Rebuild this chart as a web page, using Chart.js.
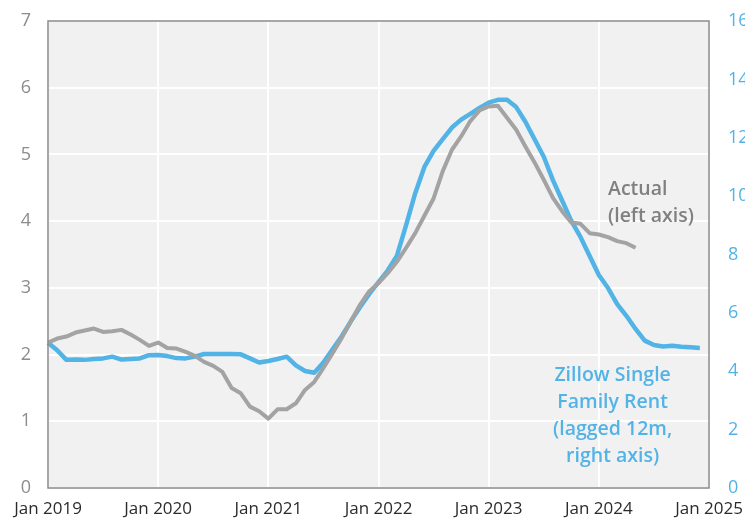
<!DOCTYPE html>
<html>
<head>
<meta charset="utf-8">
<script src="https://cdn.jsdelivr.net/npm/chart.js@4"></script>
<style>
body{margin:0;background:#fff;}
canvas{display:block;}
</style>
</head>
<body>
<canvas id="chart" width="745" height="521"></canvas>
<script>
// month categories, Jan 2019 .. Jan 2025
const months = [];
for(let y=2019;y<=2025;y++){
for(let m=0;m<12;m++){
if(y===2025 && m>0) break;
months.push("Jan Feb Mar Apr May Jun Jul Aug Sep Oct Nov Dec".split(" ")[m]+" "+y);
}
}

// Actual (left axis), monthly from Jan 2019
const actual = [2.18,2.24,2.27,2.33,2.36,2.39,2.34,2.35,2.37,2.30,2.22,2.13,
2.18,2.10,2.09,2.04,1.98,1.89,1.83,1.74,1.50,1.42,1.22,1.15,
1.04,1.18,1.18,1.27,1.47,1.59,1.80,2.02,2.25,2.50,2.75,2.95,
3.07,3.22,3.39,3.60,3.82,4.08,4.34,4.75,5.07,5.27,5.50,5.66,
5.72,5.73,5.55,5.37,5.12,4.88,4.62,4.35,4.15,3.98,3.96,3.82,
3.80,3.76,3.70,3.67,3.60];

// Zillow single family rent, lagged 12m (right axis)
const zillow = [4.98,4.72,4.39,4.40,4.39,4.42,4.44,4.50,4.40,4.42,4.44,4.55,
4.56,4.52,4.45,4.44,4.50,4.59,4.59,4.59,4.59,4.58,4.44,4.30,
4.35,4.42,4.50,4.20,4.01,3.95,4.30,4.75,5.20,5.72,6.20,6.65,
7.05,7.45,7.95,9.00,10.10,11.00,11.55,11.95,12.35,12.62,12.82,13.02,
13.20,13.30,13.30,13.05,12.55,11.95,11.35,10.55,9.85,9.15,8.60,7.95,
7.30,6.85,6.30,5.90,5.45,5.05,4.90,4.85,4.87,4.84,4.82,4.80];

const leftTicks = [0,1,2,3,4,5,6,7];
const rightTicks = [0,2,4,6,8,10,12,14,16];

const grey = "#a3a3a3";
const blue = "#52b3e6";
const font = "'Open Sans'";

const frame = {
id:"frame",
beforeDraw(chart){
const a = chart.chartArea, c = chart.ctx;
c.save();
c.fillStyle = "#f1f1f1";
c.fillRect(a.left,a.top,a.right-a.left,a.bottom-a.top);
c.restore();
},
afterDraw(chart){
const a = chart.chartArea, c = chart.ctx;
const x = chart.scales.x, y = chart.scales.y, y2 = chart.scales.y2;
c.save();
c.strokeStyle = "#8a8a8a";
c.lineWidth = 1.5;
c.strokeRect(a.left,a.top,a.right-a.left,a.bottom-a.top);
// labels
c.font = "600 19.5px "+font;
c.textBaseline = "middle";
c.fillStyle = "#808080";
c.textAlign = "left";
const ax = x.getPixelForValue(61), ay = y.getPixelForValue(4.48);
c.fillText("Actual",ax,ay);
c.fillText("(left axis)",ax,ay+27);
c.fillStyle = blue;
c.textAlign = "center";
const zx = x.getPixelForValue(61.5), zy = y2.getPixelForValue(3.87);
["Zillow Single","Family Rent","(lagged 12m,","right axis)"].forEach((t,i)=>{
c.fillText(t,zx,zy+i*27);
});
c.restore();
}
};

new Chart(document.getElementById("chart"),{
type:"line",
data:{
labels:months,
datasets:[
{label:"Actual",data:actual,yAxisID:"y",borderColor:grey,borderWidth:4,pointRadius:0,tension:0,borderJoinStyle:"round"},
{label:"Zillow",data:zillow,yAxisID:"y2",borderColor:blue,borderWidth:4.5,pointRadius:0,tension:0,borderJoinStyle:"round"}
]
},
options:{
responsive:false,
animation:false,
layout:{padding:{top:21,right:0}},
plugins:{legend:{display:false},tooltip:{enabled:false}},
scales:{
x:{
offset:false,
border:{display:false},
grid:{drawTicks:false,color:(c)=> c.index%12===0 ? "#ffffff" : "transparent",lineWidth:2},
ticks:{autoSkip:false,maxRotation:0,padding:11,color:"#2b2b2b",font:{family:"Open Sans",size:17},
callback:(v,i)=> i%12===0 ? months[i] : ""},
afterFit:(s)=>{s.height=33;s.paddingLeft=0;s.paddingRight=0;}
},
y:{
position:"left",min:0,max:7,
border:{display:false},
grid:{drawTicks:false,color:"#ffffff",lineWidth:2},
ticks:{stepSize:1,padding:17,color:"#8c8c8c",font:{family:"Open Sans",size:18},
callback:(v)=> leftTicks.includes(v) ? v : ""},
afterFit:(s)=>{s.width=48;s.paddingTop=0;s.paddingBottom=0;}
},
y2:{
position:"right",min:0,max:16,
border:{display:false},
grid:{display:false,drawTicks:false},
ticks:{stepSize:2,padding:19,color:blue,font:{family:"Open Sans",size:18},
callback:(v)=> rightTicks.includes(v) ? v : ""},
afterFit:(s)=>{s.width=36;s.paddingTop=0;s.paddingBottom=0;}
}
}
},
plugins:[frame]
});
</script>
</body>
</html>
